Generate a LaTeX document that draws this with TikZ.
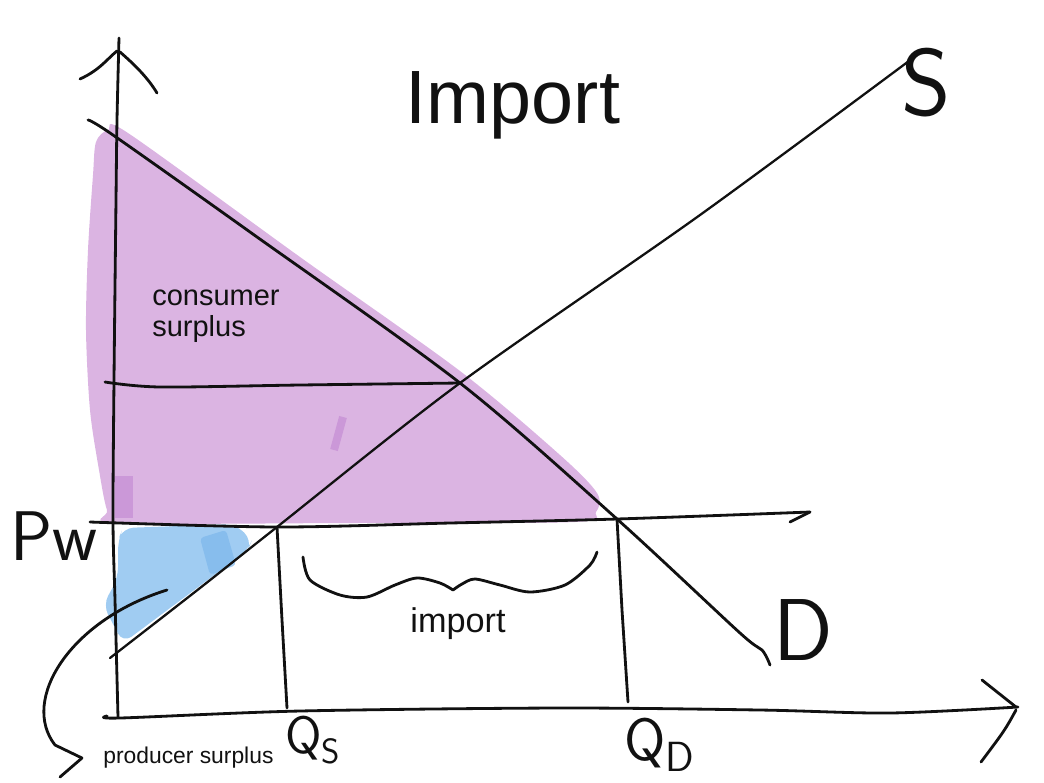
\documentclass[tikz,border=0pt]{standalone}
\usepackage{fontspec}
\newfontfamily\printfont{Liberation Sans}
\usetikzlibrary{positioning}
\definecolor{SurplusPurple}{HTML}{DBB4E2}
\definecolor{SurplusPurpleDark}{HTML}{CB98D8}
\definecolor{SurplusBlue}{HTML}{A0CCF2}
\definecolor{SurplusBlueDark}{HTML}{7DB7EC}
\definecolor{InkLine}{HTML}{111111}

\begin{document}
\begin{tikzpicture}[
  x=0.02cm, y=-0.02cm,
  inkline/.style={draw=InkLine, line width=1.6pt, line cap=round, line join=round},
  thinline/.style={inkline, line width=1.3pt},
  typed/.style={text=InkLine, inner sep=0pt},
  handlabel/.style={text=InkLine, inner sep=0pt}
]
\useasboundingbox (0,0) rectangle (1044,782);
% points on the curves
\coordinate (eqPt) at (460,383);
\coordinate (pwSupply) at (277,527);
\coordinate (pwDemand) at (617,519);
\coordinate (qsFoot) at (287,708);
\coordinate (qdFoot) at (628,702);
\coordinate (psStart) at (167,590);
\coordinate (psTip) at (82,758);

% surplus areas
\fill[SurplusPurple] plot[smooth cycle, tension=0.5] coordinates {
  (96,142) (108,130) (128,133) (300,257) (460,371) (560,455) (597,493)
  (596,512) (575,522) (350,523) (118,523) (107,510) (99,470) (90,410)
  (86,330) (88,250) (93,175)};
\fill[SurplusPurpleDark] (115,476) rectangle (133,518);
\draw[SurplusPurpleDark, line width=4.5pt] (343,417) -- (334,450);
\fill[SurplusBlue, rounded corners=6pt] (123,528) -- (235,524) -- (252,540)
  -- (248,550) -- (123,643) -- (103,605) -- (118,578) -- (118,540) -- cycle;
\fill[SurplusBlueDark, opacity=0.7, rounded corners=2pt] (200,538) -- (226,530)
  -- (236,565) -- (210,575) -- cycle;

% axes
\draw[inkline] plot[smooth] coordinates {(118,717) (115,600) (113,520) (114,380) (116,200) (117,120) (119,38)};
\draw[inkline] (80,79) .. controls (100,70) and (108,58) .. (117,51);
\draw[inkline] (120,52) .. controls (135,65) and (148,78) .. (157,93);
\draw[inkline] plot[smooth] coordinates {(107,716) (120,718) (300,711) (560,708) (760,710) (890,713) (1018,707)};
\draw[inkline] (982,680) -- (1016,707);
\draw[inkline] (1016,710) .. controls (1005,730) .. (981,762);

% world price
\draw[inkline] plot[smooth] coordinates {(90,522) (pwSupply) (450,523) (pwDemand) (810,512)};
\draw[inkline] (810,512) -- (790,522);
\draw[inkline] plot[smooth] coordinates {(105,382) (160,387) (300,385) (eqPt)};

% supply and demand
\draw[thinline] plot[smooth] coordinates {(110,658) (200,588) (pwSupply) (eqPt) (700,215) (917,55)};
\draw[inkline] plot[smooth] coordinates {(88,120) (113,135) (250,232) (eqPt) (pwDemand) (740,633) (762,650) (770,665)};

% quantities
\draw[inkline] (pwSupply) -- (282,620) -- (qsFoot);
\draw[inkline] (pwDemand) -- (622,610) -- (qdFoot);

% import brace
\draw[inkline] plot[smooth] coordinates {(303,557) (310,580) (340,595) (367,597) (395,585) (417,578) (440,583) (453,590)};
\draw[inkline] plot[smooth] coordinates {(453,590) (462,584) (475,579) (500,585) (530,592) (565,585) (590,565) (597,552)};

% labels
\node[typed, font=\printfont\fontsize{43}{50}\selectfont, anchor=base] (title) at (513,123) {Import};
\node[typed, font=\printfont\fontsize{16.5}{17.5}\selectfont, align=left, anchor=base west] (lblCS) at (152,336) {consumer\\surplus};
\node[typed, font=\printfont\fontsize{19.5}{22}\selectfont, anchor=base] (lblImp) at (458,632) {import};
\node[typed, font=\printfont\fontsize{13}{15}\selectfont, anchor=base west] (lblPS) at (103,763) {producer surplus};
\node[handlabel, font=\sffamily\fontsize{40}{44}\selectfont, anchor=base west] (lblPw) at (10,560) {Pw};
\node[handlabel, font=\sffamily\fontsize{30}{34}\selectfont, anchor=base west] (lblQs) at (285,753) {Q\raisebox{-0.2em}{\fontsize{20}{22}\selectfont S}};
\node[handlabel, font=\sffamily\fontsize{34}{38}\selectfont, anchor=base west] (lblQd) at (624,760) {Q\raisebox{-0.2em}{\fontsize{24}{26}\selectfont D}};
\node[handlabel, font=\sffamily\fontsize{54}{60}\selectfont, anchor=base] (lblS) at (926,115) {S};
\node[handlabel, font=\sffamily\fontsize{50}{56}\selectfont, anchor=base] (lblD) at (803,660) {D};

% pointer to producer surplus
\draw[inkline] (psStart) .. controls (70,620) and (20,700) .. (55,745) -- (psTip);
\draw[inkline] (psTip) -- (60,777);
\end{tikzpicture}
\end{document}
